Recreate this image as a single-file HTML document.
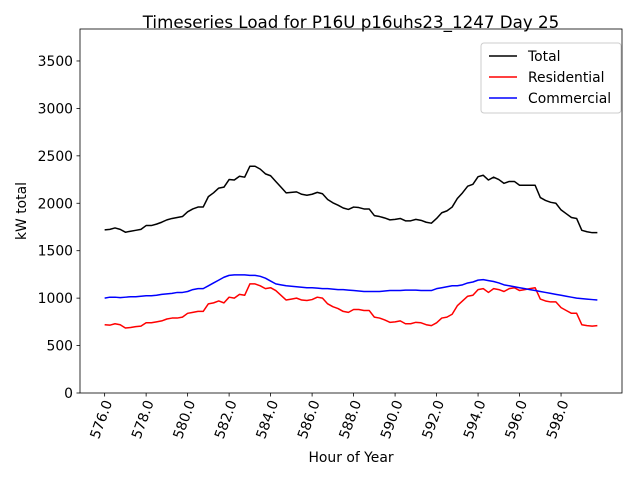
<!DOCTYPE html>
<html><head><meta charset="utf-8"><style>
body{margin:0;background:#fff}
svg text{font-family:"DejaVu Sans","Liberation Sans",sans-serif;fill:#000}
</style></head><body>
<svg id="chart" width="640" height="480" xmlns="http://www.w3.org/2000/svg">
<rect width="640" height="480" fill="#fff"/>
<text x="351" y="28" font-size="16.7" text-anchor="middle">Timeseries Load for P16U p16uhs23_1247  Day 25</text>
<g id="plot"></g>
<text x="351" y="462" font-size="13.9" text-anchor="middle">Hour of Year</text>
<text transform="translate(26,211) rotate(-90)" font-size="13.9" text-anchor="middle">kW total</text>
</svg>
<script>
const startHour = 576;
const stepHours = 0.25;
const xTicks = [576,578,580,582,584,586,588,590,592,594,596,598];
const yTicks = [0,500,1000,1500,2000,2500,3000,3500];
const total = [1720,1725,1740,1725,1695,1705,1715,1725,1765,1765,1780,1800,1825,1840,1850,1860,1910,1940,1960,1960,2070,2110,2160,2170,2250,2245,2285,2275,2390,2390,2360,2310,2290,2230,2170,2110,2115,2120,2095,2085,2095,2115,2100,2040,2005,1980,1950,1935,1960,1955,1940,1940,1870,1860,1845,1825,1830,1840,1815,1815,1830,1820,1800,1790,1840,1900,1920,1960,2050,2110,2180,2200,2280,2295,2245,2275,2250,2210,2230,2230,2190,2190,2190,2190,2060,2030,2010,2000,1930,1890,1850,1840,1715,1700,1690,1690];
const residential = [720,715,730,720,685,690,700,705,740,740,750,760,780,790,790,800,840,850,860,860,940,950,970,950,1010,1000,1040,1030,1150,1150,1130,1100,1110,1080,1030,980,990,1000,980,975,985,1010,1000,940,910,890,860,850,880,880,870,870,800,790,770,745,750,760,730,730,745,740,720,710,740,790,800,830,920,970,1020,1030,1090,1100,1060,1100,1090,1070,1100,1110,1080,1090,1100,1110,990,970,960,960,900,870,840,840,720,710,705,710];
const commercial = [1000,1010,1010,1005,1010,1015,1015,1020,1025,1025,1030,1040,1045,1050,1060,1060,1070,1090,1100,1100,1130,1160,1190,1220,1240,1245,1245,1245,1240,1240,1230,1210,1180,1150,1140,1130,1125,1120,1115,1110,1110,1105,1100,1100,1095,1090,1090,1085,1080,1075,1070,1070,1070,1070,1075,1080,1080,1080,1085,1085,1085,1080,1080,1080,1100,1110,1120,1130,1130,1140,1160,1170,1190,1195,1185,1175,1160,1140,1130,1120,1110,1100,1090,1080,1070,1060,1050,1040,1030,1020,1010,1000,995,990,985,980];
const seriesNames = ["Total","Residential","Commercial"];

const L=80,R=622,T=29,B=393;
const xMin=574.8125,xMax=600.9375,yMin=0,yMax=3837;
const X=h=>L+(h-xMin)/(xMax-xMin)*(R-L);
const Y=v=>B-(v-yMin)/(yMax-yMin)*(B-T);
const NS="http://www.w3.org/2000/svg";
const g=document.getElementById('plot');
function mk(tag,attrs,parent){const e=document.createElementNS(NS,tag);for(const k in attrs)e.setAttribute(k,attrs[k]);(parent||g).appendChild(e);return e;}

xTicks.forEach(t=>{
  const x=X(t);
  const tk=mk('line',{x1:x,x2:x,y1:B,y2:B+3.5,stroke:'#000','stroke-width':0.8});
  
  
  const tx=mk('text',{transform:`translate(${x+4},${B+8}) rotate(-70)`,'font-size':13.9,'text-anchor':'end','dominant-baseline':'middle'});
  tx.textContent=t.toFixed(1);
  
  
});
yTicks.forEach(t=>{
  const y=Y(t);
  const tk=mk('line',{x1:L-3.5,x2:L,y1:y,y2:y,stroke:'#000','stroke-width':0.8});
  
  
  const tx=mk('text',{x:L-7,y:y+5,'font-size':13.9,'text-anchor':'end'});
  tx.textContent=t;
  
  
});

const colors=['#000','#f00','#00f'];
[total,residential,commercial].forEach((s,i)=>{
  const pts=s.map((v,j)=>X(startHour+j*stepHours).toFixed(2)+','+Y(v).toFixed(2)).join(' ');
  const pl=mk('polyline',{points:pts,fill:'none',stroke:colors[i],'stroke-width':1.5,'stroke-linejoin':'round'});
  
  
});

const frame=mk('rect',{x:L,y:T,width:R-L,height:B-T,fill:'none',stroke:'#000','stroke-width':0.8});



const lg=mk('g',{});


mk('rect',{x:481,y:43,width:140,height:70,rx:3,fill:'#fff','fill-opacity':0.8,stroke:'#ccc','stroke-width':1},lg);
seriesNames.forEach((n,i)=>{
  const y=56+i*21;
  const e=mk('g',{},lg);
  
  
  mk('line',{x1:489,x2:517,y1:y,y2:y,stroke:colors[i],'stroke-width':1.5},e);
  const t=mk('text',{x:528,y:y+5,'font-size':13.9},e);
  t.textContent=n;
});
</script>
</body></html>
